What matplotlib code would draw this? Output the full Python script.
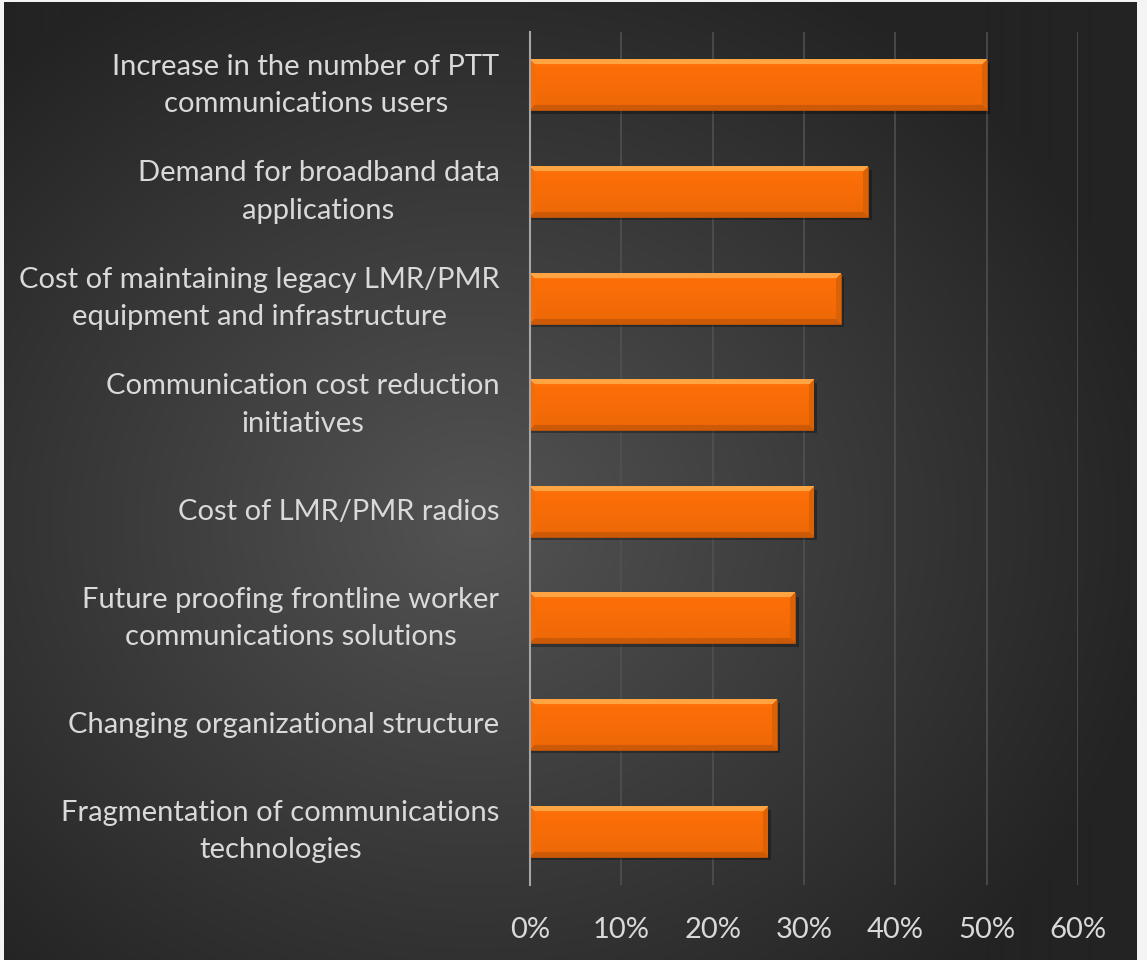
import numpy as np
import matplotlib
matplotlib.use("Agg")
import matplotlib.pyplot as plt
from matplotlib.colors import to_rgb

categories = [
    "Increase in the number of PTT\ncommunications users",
    "Demand for broadband data\napplications",
    "Cost of maintaining legacy LMR/PMR\nequipment and infrastructure",
    "Communication cost reduction\ninitiatives",
    "Cost of LMR/PMR radios",
    "Future proofing frontline worker\ncommunications solutions",
    "Changing organizational structure",
    "Fragmentation of communications\ntechnologies",
]
values = [0.50, 0.37, 0.34, 0.31, 0.31, 0.29, 0.27, 0.26]
xticks = [0, 0.1, 0.2, 0.3, 0.4, 0.5, 0.6]
xticklabels = ["0%", "10%", "20%", "30%", "40%", "50%", "60%"]

TEXT = "#d9d9d9"
FONT = ["Lato", "DejaVu Sans"]
W, H = 1147, 960

fig = plt.figure(figsize=(W / 100, H / 100), dpi=100, facecolor="#f4f4f4")

# dark panel with radial gradient
bg = fig.add_axes([4 / W, 0, 1132 / W, 958 / H])
bg.set_axis_off()
yy, xx = np.mgrid[0:958, 0:1132]
d = np.sqrt(((xx - 470) / 700.0) ** 2 + ((yy - 520) / 620.0) ** 2)
d = np.clip(d, 0, 1)
c0 = np.array(to_rgb("#535353"))
c1 = np.array(to_rgb("#232323"))
img = c0[None, None, :] * (1 - d[..., None]) + c1[None, None, :] * d[..., None]
bg.imshow(img, aspect="auto", extent=[0, 1, 0, 1], origin="upper")
bg.set_xlim(0, 1)
bg.set_ylim(0, 1)

ax = fig.add_axes([530 / W, 75 / H, 548 / W, 853 / H])
ax.patch.set_alpha(0)

bar_h = 0.47
ypos = np.arange(len(categories))


def bevel_image(npx_w, npx_h, b=5):
    # orange face with light top edge and darker bottom/right edges
    base = np.array(to_rgb("#ff7008"))
    top = np.array(to_rgb("#ffa443"))
    bot = np.array(to_rgb("#cc5a06"))
    right = np.array(to_rgb("#dc6206"))
    left = np.array(to_rgb("#f56b08"))
    t = np.linspace(0, 1, npx_h)[:, None, None]
    im = np.tile(base, (npx_h, npx_w, 1)) * (1.0 - 0.07 * t)
    ys = np.arange(npx_h)[:, None]
    xs = np.arange(npx_w)[None, :]
    dist = np.stack(np.broadcast_arrays(ys, npx_h - 1 - ys, xs, npx_w - 1 - xs))
    inb = dist.min(axis=0) < b
    which = dist.argmin(axis=0)
    for k, col in enumerate([top, bot, left, right]):
        im[inb & (which == k)] = col
    return np.clip(im, 0, 1)


px_per_unit = 548 / 0.6
px_h = int(bar_h * 853 / len(categories))
for y, v in zip(ypos, values):
    # drop shadow
    ax.barh(y + 0.03, v + 0.004, height=bar_h, color="black",
            alpha=0.3, zorder=2, linewidth=0)
    ax.barh(y, v, height=bar_h, color="#ff7008", edgecolor="#b9520a",
            linewidth=0.6, zorder=3)
    im = bevel_image(max(int(v * px_per_unit), 10), px_h)
    ax.imshow(im, extent=[0, v, y + bar_h / 2, y - bar_h / 2], aspect="auto",
              zorder=4, interpolation="bilinear")

ax.set_xlim(0, 0.6)
ax.set_ylim(len(categories) - 0.5, -0.5)

ax.set_xticks(xticks)
ax.set_xticklabels(xticklabels, fontsize=21, color=TEXT, family=FONT)
ax.set_yticks(ypos)
ax.set_yticklabels(categories, fontsize=21, color=TEXT, family=FONT)
for t in ax.get_yticklabels():
    t.set_multialignment("center")
    t.set_linespacing(1.55)
    t.set_verticalalignment("center")
ax.tick_params(axis="x", length=0, pad=23)
ax.tick_params(axis="y", length=0, pad=22)

ax.grid(axis="x", color="#525252", linewidth=1.1, zorder=0)
ax.set_axisbelow(True)
for s in ["top", "right", "bottom"]:
    ax.spines[s].set_visible(False)
ax.spines["left"].set_color("#a6a6a6")
ax.spines["left"].set_linewidth(1.5)
ax.spines["left"].set_zorder(5)

fig.savefig("out.png", dpi=100, facecolor=fig.get_facecolor())
